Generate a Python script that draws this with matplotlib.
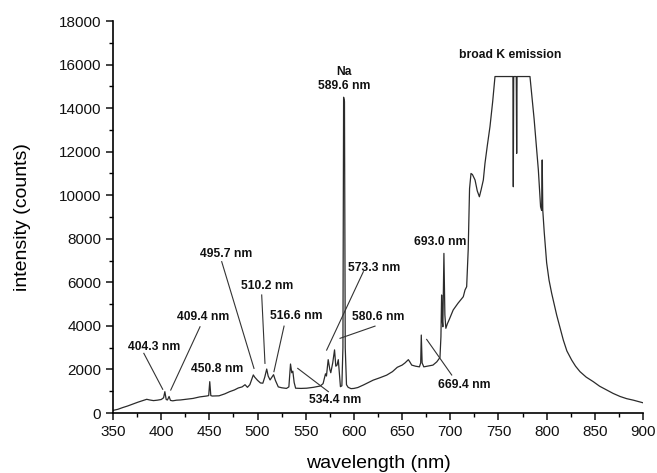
import numpy as np
import matplotlib.pyplot as plt
from matplotlib.ticker import MultipleLocator

plt.rcParams['font.family'] = ['Liberation Sans', 'DejaVu Sans']

# %% spectrum (wavelength in nm, intensity in counts)
wavelength = [350, 355, 360, 365, 371, 376, 380, 385, 388, 392, 396, 400,
              402.5, 403.8, 405.2, 406.5, 408.2, 409.6, 412, 416, 420, 426,
              433, 440, 447, 449.3, 450.4, 451.5, 453, 460, 466, 471, 476,
              480, 484, 487, 489.5, 492, 495.6, 497, 500, 503, 505.5, 507.5,
              509.5, 511, 513, 515, 516.6, 518.5, 521.5, 525, 530, 532.5,
              534.2, 535.5, 536.6, 538, 539.5, 545, 551, 558, 565, 568,
              570.5, 571.5, 573.3, 575, 576, 578, 579.9, 581.2, 582.5, 583.8,
              585, 586, 587.5, 588.6, 589.3, 590.2, 591, 592.3, 594, 597,
              600, 604, 610, 615, 620, 627, 634, 640, 645, 650, 653, 656.5,
              658, 660, 664, 668, 669.3, 669.9, 670.8, 672.5, 676, 682, 686,
              689.3, 690.3, 691, 691.8, 692.3, 693.4, 694.4, 695.4, 697, 699,
              703, 708, 713.5, 715.3, 717, 718.6, 720, 721.5, 723, 725.7,
              728, 730.2, 732, 734.3, 736, 738.5, 741.2, 744, 746.4, 765,
              765.4, 765.8, 768.5, 768.9, 769.3, 782.7, 787, 791.4, 793.7,
              794.8, 795.4, 796, 797.5, 800, 802.5, 805.2, 810.4, 814, 817.3,
              821, 826, 830, 834.6, 841, 848.4, 855, 862.3, 869, 876.2, 883,
              890, 900]
intensity = [120, 170, 250, 320, 420, 500, 560, 630, 600, 570, 590, 620,
             700, 980, 620, 600, 760, 580, 560, 590, 600, 630,
             670, 740, 780, 800, 1440, 800, 780, 790, 880, 980, 1060,
             1150, 1200, 1300, 1180, 1300, 1750, 1650, 1500, 1380, 1370, 1650,
             2020, 1700, 1520, 1650, 1760, 1500, 1200, 1160, 1130, 1200,
             2250, 1850, 1920, 1400, 1140, 1130, 1140, 1180, 1240, 1350,
             1800, 1700, 2450, 2000, 1850, 2300, 2900, 2150, 2200, 2450,
             1800, 1210, 1250, 3000, 14500, 14300, 3000, 1300, 1180, 1120,
             1130, 1170, 1290, 1400, 1510, 1620, 1740, 1900, 2100, 2200, 2300, 2450,
             2350, 2200, 2150, 2120, 2300, 3580, 2300, 2120, 2150, 2200, 2350,
             2550, 3500, 5420, 4200, 3960, 7330, 4500, 3890, 4100, 4300,
             4730, 5040, 5340, 5650, 5800, 7500, 10300, 11000, 10950, 10700,
             10200, 9930, 10250, 10700, 11460, 12300, 13150, 14300, 15450, 15450,
             10390, 15450, 15450, 11920, 15450, 15450, 13500, 11160, 9470,
             9300, 11620, 9300, 8300, 6900, 6100, 5500, 4500, 3900, 3350,
             2850, 2430, 2150, 1900, 1650, 1440, 1230, 1060, 900, 760, 660,
             590, 470]

# %% peak labels
label_text = ['Na', '589.6 nm', 'broad K emission', '693.0 nm', '573.3 nm',
              '580.6 nm', '534.4 nm', '669.4 nm', '404.3 nm', '409.4 nm',
              '450.8 nm', '495.7 nm', '510.2 nm', '516.6 nm']
label_x = [589.6, 589.6, 762, 689.4, 621, 625, 580.4, 714.3, 392.5, 443.4,
           458.5, 467, 509.8, 540.6]
label_y = [15660, 15010, 16440, 7850, 6660, 4420, 600, 1290, 3045, 4390,
           2005, 7300, 5850, 4450]

# leader lines: (x0, y0, x1, y1)
leaders = [(609.8, 6490, 571.7, 2890),
           (621.9, 3990, 585.6, 3430),
           (541.7, 2050, 573.5, 980),
           (675.5, 3380, 701.5, 1745),
           (382, 2740, 401.6, 1090),
           (440.3, 3960, 409.9, 1055),
           (462.8, 6950, 496.3, 2050),
           (504.3, 5420, 507.7, 2280),
           (527.5, 3990, 517, 1900)]

# %% plot
fig = plt.figure(figsize=(6.57, 4.73), dpi=100)
ax = fig.add_axes([0.172, 0.1268, 0.8067, 0.8288])

ax.plot(wavelength, intensity, color='#2b2b2b', lw=0.9)

for x0, y0, x1, y1 in leaders:
    ax.plot([x0, x1], [y0, y1], color='#333333', lw=0.8)

for t, x, y in zip(label_text, label_x, label_y):
    ax.text(x, y, t, ha='center', va='center', fontsize=8.7,
            fontweight='bold', color='#111111')

ax.set_xlim(350, 900)
ax.set_ylim(0, 18000)
ax.xaxis.set_major_locator(MultipleLocator(50))
ax.xaxis.set_minor_locator(MultipleLocator(25))
ax.yaxis.set_major_locator(MultipleLocator(2000))
ax.yaxis.set_minor_locator(MultipleLocator(1000))

for side in ['top', 'right']:
    ax.spines[side].set_visible(False)
for side in ['left', 'bottom']:
    ax.spines[side].set_linewidth(1.2)

ax.tick_params(which='major', direction='out', length=5, width=1.1,
               labelsize=11, colors='#111111')
ax.tick_params(which='minor', direction='out', length=3, width=1.0)

ax.set_xlabel('wavelength (nm)', fontsize=14, labelpad=12)
ax.set_ylabel('intensity (counts)', fontsize=14, labelpad=20)

fig.savefig('out.png', dpi=100)
